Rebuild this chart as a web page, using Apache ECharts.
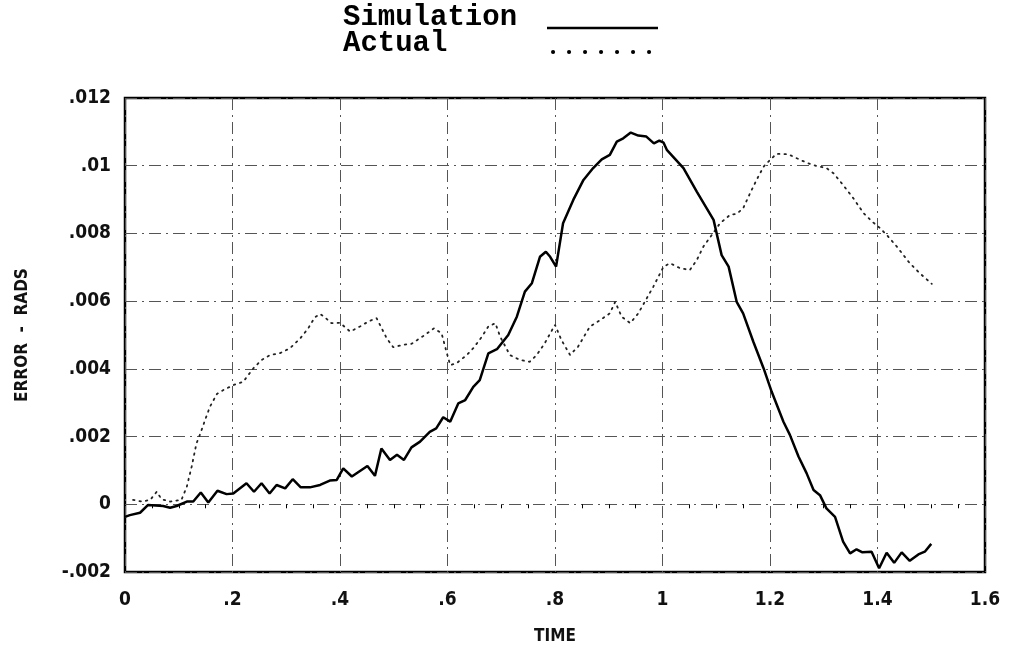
<!DOCTYPE html>
<html>
<head>
<meta charset="utf-8">
<script src="https://cdn.jsdelivr.net/npm/echarts@6/dist/echarts.min.js"></script>
<style>
  html, body { margin: 0; padding: 0; background: #fff; }
  #chart { width: 1009px; height: 655px; }
</style>
</head>
<body>
<div id="chart"></div>
<script>
// Simulated tracking error vs. time
const simTime = [0, 0.009, 0.028, 0.043, 0.071, 0.084, 0.096, 0.115, 0.127, 0.141, 0.155, 0.172, 0.189, 0.2015,
  0.226, 0.240, 0.254, 0.269, 0.282, 0.298, 0.312, 0.327, 0.344, 0.363, 0.381, 0.394, 0.406, 0.422, 0.451,
  0.465, 0.477, 0.493, 0.506, 0.519, 0.533, 0.549, 0.567, 0.579, 0.592, 0.605, 0.620, 0.633, 0.648, 0.660,
  0.676, 0.692, 0.713, 0.729, 0.744, 0.757, 0.772, 0.783, 0.791, 0.802, 0.815, 0.834, 0.853, 0.871, 0.887,
  0.902, 0.915, 0.927, 0.941, 0.955, 0.970, 0.984, 0.994, 1.002, 1.008, 1.039, 1.064, 1.095, 1.110, 1.123,
  1.138, 1.150, 1.169, 1.188, 1.203, 1.225, 1.237, 1.253, 1.268, 1.281, 1.293, 1.305, 1.321, 1.336, 1.349,
  1.361, 1.372, 1.389, 1.403, 1.417, 1.431, 1.445, 1.460, 1.476, 1.488, 1.500];
const simError = [-0.00037, -0.00032, -0.00025, -0.00002, -0.00005, -0.0001, -0.00005, 0.00008, 0.00008, 0.00035,
  0.00005, 0.0004, 0.0003, 0.00032, 0.00062, 0.00037, 0.00062, 0.00032, 0.00057, 0.00047, 0.00074, 0.0005,
  0.0005, 0.00057, 0.0007, 0.00072, 0.00106, 0.00082, 0.00113, 0.00084, 0.00165, 0.00131, 0.00146, 0.00131,
  0.00168, 0.00185, 0.00214, 0.00224, 0.00257, 0.00244, 0.00298, 0.00308, 0.00347, 0.00367, 0.00446, 0.00458,
  0.0050, 0.00554, 0.00628, 0.00653, 0.00731, 0.00746, 0.00731, 0.00702, 0.0083, 0.00899, 0.00958, 0.00993,
  0.01019, 0.01032, 0.01071, 0.01081, 0.01098, 0.01089, 0.01086, 0.01066, 0.01074, 0.01068, 0.01047, 0.00993,
  0.00923, 0.0084, 0.00736, 0.00702, 0.00598, 0.00564, 0.0048, 0.00402, 0.00333, 0.00244, 0.00205, 0.00141,
  0.00092, 0.00042, 0.00027, -0.00012, -0.00037, -0.0011, -0.00145, -0.00133, -0.00142, -0.0014, -0.00189,
  -0.00143, -0.00173, -0.00142, -0.00167, -0.00148, -0.0014, -0.00117];

// Measured tracking error vs. time
const actTime = [0.015, 0.031, 0.047, 0.059, 0.068, 0.084, 0.105, 0.115, 0.124, 0.133, 0.140, 0.149, 0.158, 0.171,
  0.186, 0.2015, 0.220, 0.239, 0.254, 0.270, 0.288, 0.307, 0.326, 0.341, 0.353, 0.363, 0.372, 0.384, 0.400,
  0.419, 0.437, 0.453, 0.468, 0.487, 0.499, 0.518, 0.533, 0.555, 0.575, 0.589, 0.598, 0.605, 0.617, 0.636,
  0.648, 0.664, 0.676, 0.689, 0.698, 0.716, 0.735, 0.753, 0.766, 0.781, 0.800, 0.812, 0.828, 0.843, 0.865,
  0.884, 0.902, 0.912, 0.924, 0.940, 0.955, 0.967, 0.983, 1.002, 1.014, 1.033, 1.051, 1.064, 1.076, 1.092,
  1.107, 1.126, 1.138, 1.150, 1.163, 1.175, 1.188, 1.200, 1.212, 1.234, 1.250, 1.268, 1.287, 1.305, 1.318,
  1.336, 1.355, 1.374, 1.390, 1.403, 1.417, 1.436, 1.460, 1.479, 1.501];
const actError = [0.00013, 0.00008, 0.00013, 0.00037, 0.00015, 0.00008, 0.00013, 0.00052, 0.00111, 0.0018, 0.00208,
  0.00249, 0.00288, 0.00326, 0.0034, 0.00352, 0.00362, 0.00402, 0.00426, 0.00441, 0.00446, 0.00461, 0.0049,
  0.0052, 0.00552, 0.00562, 0.00552, 0.00535, 0.00536, 0.0051, 0.00525, 0.0054, 0.0055, 0.0049, 0.00464,
  0.00471, 0.00474, 0.00497, 0.0052, 0.00505, 0.00451, 0.00411, 0.00417, 0.00441, 0.00461, 0.00495, 0.00525,
  0.00535, 0.00495, 0.00441, 0.00426, 0.00421, 0.00441, 0.00476, 0.0053, 0.00485, 0.00441, 0.00466, 0.00525,
  0.00544, 0.00564, 0.00598, 0.00554, 0.00535, 0.00564, 0.00598, 0.00643, 0.00702, 0.00712, 0.00697, 0.00692,
  0.00722, 0.00761, 0.00796, 0.0083, 0.00855, 0.00858, 0.00874, 0.00919, 0.00958, 0.00997, 0.01017, 0.01035,
  0.01034, 0.01022, 0.01009, 0.00999, 0.00993, 0.00978, 0.00943, 0.00904, 0.0086, 0.00835, 0.00818, 0.00796,
  0.00761, 0.00712, 0.00682, 0.00651];

const xTicks = [0, 0.2, 0.4, 0.6, 0.8, 1, 1.2, 1.4, 1.6];
const yTicks = [-0.002, 0, 0.002, 0.004, 0.006, 0.008, 0.01, 0.012];
const legendNames = ['Simulation', 'Actual'];

const pair = (xs, ys) => xs.map((x, i) => [x, ys[i]]);
// Tick text drops the leading zero: .2, .004, -.002
const stripZero = v => {
  const r = Math.round(v * 1e6) / 1e6;
  return String(r).replace(/^(-?)0\./, '$1.');
};

const narrow = '"DejaVu Sans Condensed", sans-serif';
const axisFont = { fontFamily: narrow, fontWeight: 'bold', fontSize: 19, color: '#111' };
const gridLine = { show: true, lineStyle: { color: '#555', width: 1, type: [12, 5, 2, 5] } };
const legendFont = 'bold 29px "Liberation Mono", "DejaVu Sans Mono", monospace';

const chart = echarts.init(document.getElementById('chart'), null, { renderer: 'canvas' });
chart.setOption({
  backgroundColor: '#fff',
  animation: false,
  grid: { left: 125, right: 24, top: 98, bottom: 83, show: true, borderColor: '#000', borderWidth: 2.5, backgroundColor: 'transparent' },
  xAxis: {
    type: 'value',
    min: xTicks[0], max: xTicks[xTicks.length - 1], interval: 0.2,
    name: 'TIME', nameLocation: 'middle', nameGap: 56,
    nameTextStyle: Object.assign({}, axisFont, { fontSize: 17 }),
    axisLine: { show: false },
    axisTick: { show: false },
    minorTick: { show: true, splitNumber: 4, length: 4, lineStyle: { color: '#000', width: 1 } },
    axisLabel: Object.assign({}, axisFont, { margin: 19, formatter: stripZero }),
    splitLine: gridLine
  },
  yAxis: {
    type: 'value',
    min: yTicks[0], max: yTicks[yTicks.length - 1], interval: 0.002,
    name: 'ERROR  -  RADS', nameLocation: 'middle', nameGap: 94, nameRotate: 90,
    nameTextStyle: Object.assign({}, axisFont, { fontSize: 17 }),
    axisLine: { show: false },
    axisTick: { show: false },
    axisLabel: Object.assign({}, axisFont, { margin: 14, formatter: stripZero }),
    splitLine: gridLine
  },
  graphic: [
    { type: 'text', style: { x: 343, y: 18, text: legendNames[0], font: legendFont, fill: '#000', verticalAlign: 'middle' } },
    { type: 'text', style: { x: 343, y: 44, text: legendNames[1], font: legendFont, fill: '#000', verticalAlign: 'middle' } },
    { type: 'line', shape: { x1: 547, y1: 28, x2: 658, y2: 28 }, style: { stroke: '#000', lineWidth: 2.5 } },
    { type: 'line', shape: { x1: 553, y1: 52, x2: 651, y2: 52 }, style: { stroke: '#000', lineWidth: 4, lineDash: [0.1, 15.9], lineCap: 'round' } }
  ],
  series: [
    {
      name: legendNames[0], type: 'line', data: pair(simTime, simError),
      showSymbol: false, smooth: false,
      lineStyle: { color: '#000', width: 2.5 }, z: 3
    },
    {
      name: legendNames[1], type: 'line', data: pair(actTime, actError),
      showSymbol: false, smooth: false,
      lineStyle: { color: '#222', width: 1.8, type: [1.5, 5], cap: 'round' }, z: 2
    }
  ]
});
</script>
</body>
</html>
